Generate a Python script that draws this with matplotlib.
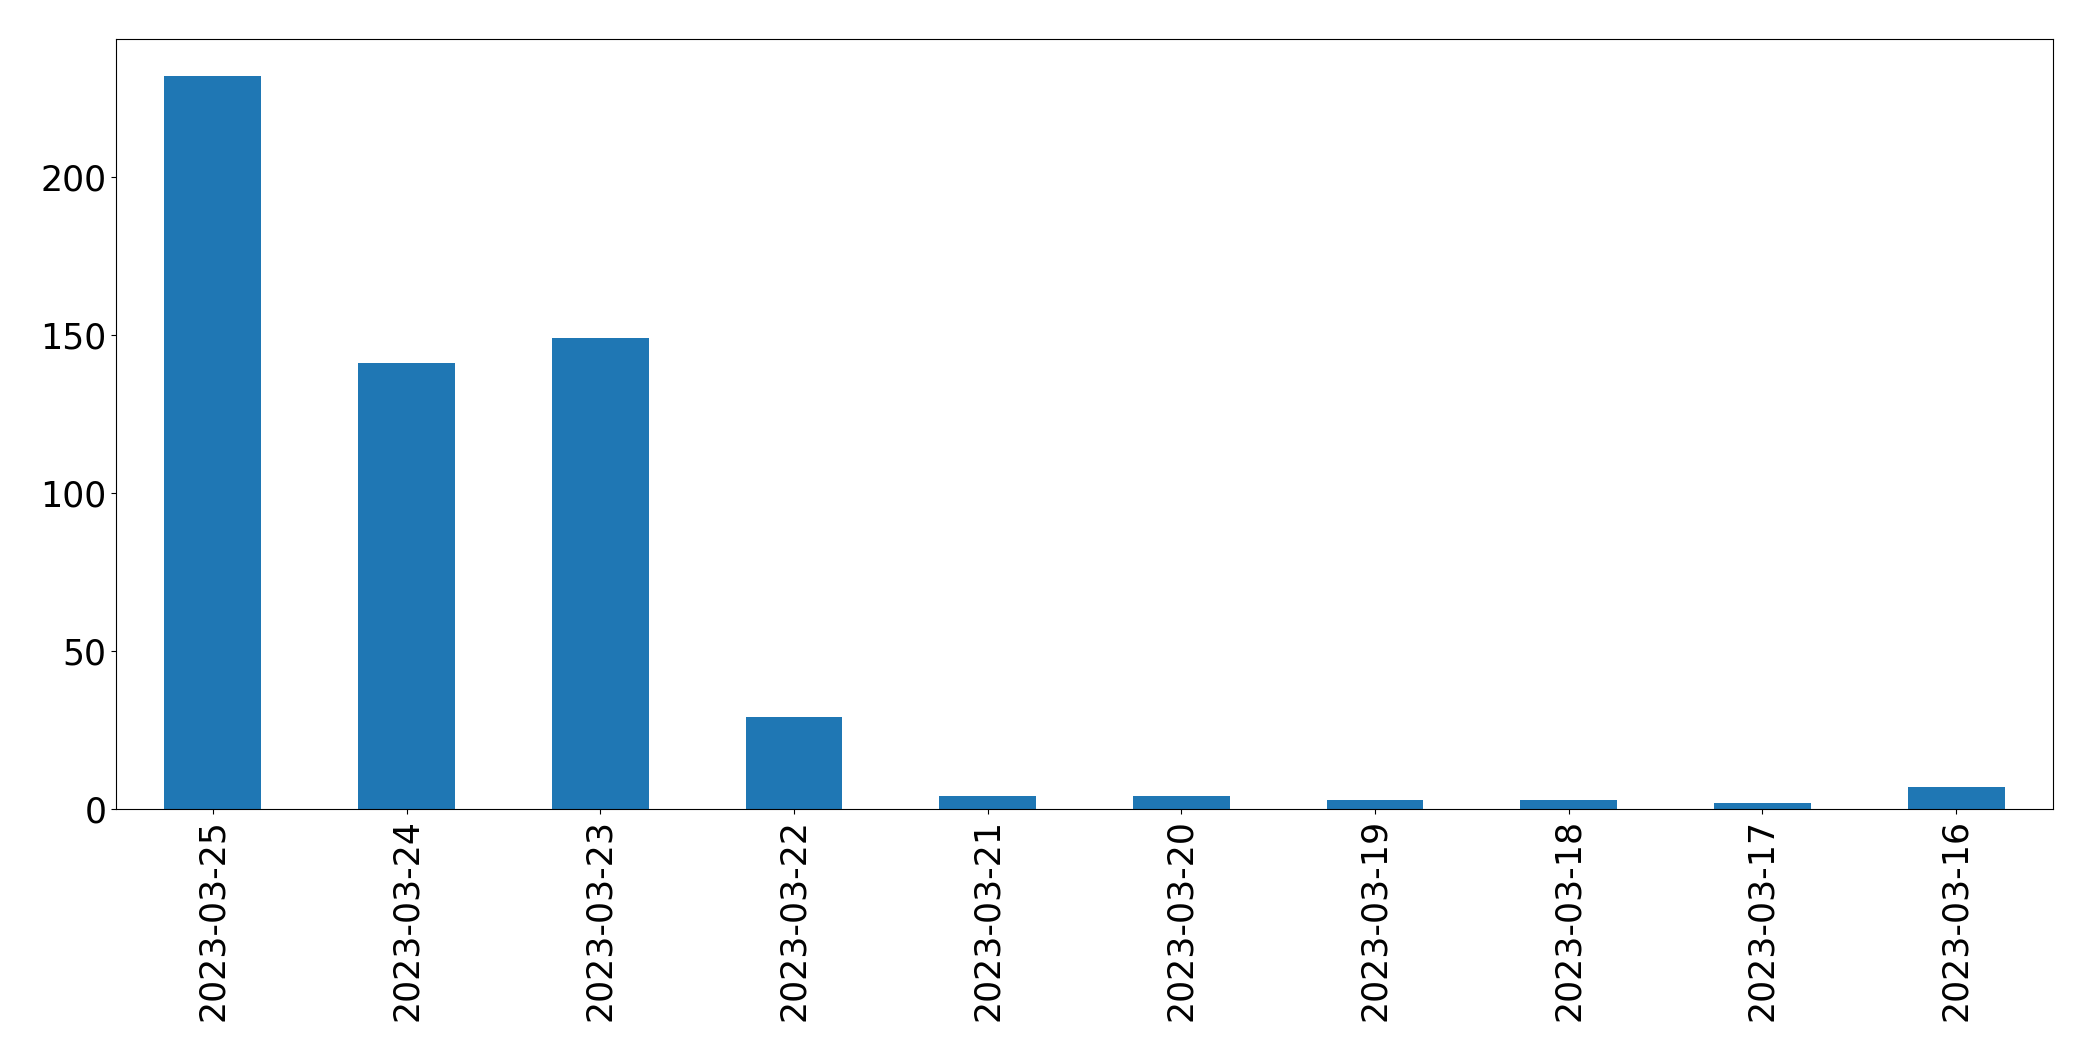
import matplotlib
matplotlib.use("Agg")
import matplotlib.pyplot as plt
import numpy as np

dates = ["2023-03-25", "2023-03-24", "2023-03-23", "2023-03-22", "2023-03-21",
         "2023-03-20", "2023-03-19", "2023-03-18", "2023-03-17", "2023-03-16"]
counts = [232, 141, 149, 29, 4, 4, 3, 3, 2, 7]

fig = plt.figure(figsize=(20.93, 10.61), dpi=100)
ax = fig.add_axes([116/2093, 1 - 809/1061, (2053 - 116)/2093, (809 - 39)/1061])
x = np.arange(len(dates))
ax.bar(x, counts, width=0.5, color="#1f77b4")
ax.set_xlim(-0.5, len(dates) - 0.5)
ax.set_ylim(0, max(counts) * 1.05)
ax.set_xticks(x)
ax.set_xticklabels(dates, rotation=90)
ax.set_yticks([0, 50, 100, 150, 200])
ax.tick_params(labelsize=25)
fig.savefig("out.png", dpi=100)
